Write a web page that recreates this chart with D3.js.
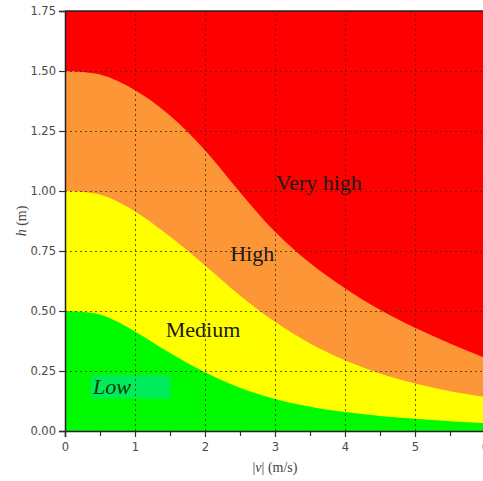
<!DOCTYPE html>
<html><head><meta charset="utf-8">
<script src="https://cdn.jsdelivr.net/npm/d3@7"></script>
<style>body{margin:0;background:#fff}svg{display:block}</style>
</head><body>
<svg id="c" width="483" height="481"></svg>
<script>
const speeds = [0,0.5,1,1.5,2,2.5,3,3.5,4,4.5,5,5.5,6];
const highBound = [1.5,1.485,1.42,1.315,1.17,0.995,0.83,0.70,0.595,0.505,0.43,0.365,0.305];
const mediumBound = [1.0,0.985,0.915,0.81,0.69,0.565,0.455,0.365,0.295,0.24,0.198,0.166,0.142];
const lowBound = [0.5,0.485,0.415,0.325,0.245,0.18,0.133,0.101,0.079,0.063,0.051,0.041,0.033];
const yTicks = [0,0.25,0.5,0.75,1.0,1.25,1.5,1.75];
const xTicks = [0,1,2,3,4,5,6];
const xMinor = [0.5,1.5,2.5,3.5,4.5,5.5];
const zoneColors = {veryHigh:"#ff0000", high:"#fd9636", medium:"#ffff00", low:"#00fb00"};

const svg = d3.select("#c");
const x = d3.scaleLinear().domain([0,6]).range([65,485]);
const y = d3.scaleLinear().domain([0,1.75]).range([431,11]);

svg.append("defs").append("clipPath").attr("id","pc")
  .append("rect").attr("x",x(0)).attr("y",y(1.75)).attr("width",x(6)-x(0)).attr("height",y(0)-y(1.75));
const g = svg.append("g").attr("clip-path","url(#pc)");

g.append("rect").attr("x",x(0)).attr("y",y(1.75)).attr("width",x(6)-x(0)).attr("height",y(0)-y(1.75)).attr("fill",zoneColors.veryHigh);
const area = d3.area().x(d=>x(d[0])).y0(y(0)).y1(d=>y(d[1])).curve(d3.curveCatmullRom.alpha(0.5));
[[highBound,zoneColors.high],[mediumBound,zoneColors.medium],[lowBound,zoneColors.low]].forEach(([b,c])=>{
  g.append("path").datum(speeds.map((s,i)=>[s,b[i]])).attr("d",area).attr("fill",c);
});

// Low label box
g.append("rect").attr("x",x(0.37)).attr("y",y(0.232)).attr("width",x(1.5)-x(0.37)).attr("height",y(0.136)-y(0.232)).attr("fill","#00ec5a");

// grid
const grid = g.append("g").attr("stroke","#3a2a00").attr("stroke-opacity",0.75).attr("stroke-width",1).attr("stroke-dasharray","2,3");
[1,2,3,4,5].forEach(v=>grid.append("line").attr("x1",x(v)+0.5).attr("x2",x(v)+0.5).attr("y1",y(0)).attr("y2",y(1.75)));
[0.25,0.5,0.75,1.0,1.25,1.5].forEach(v=>grid.append("line").attr("y1",y(v)+0.5).attr("y2",y(v)+0.5).attr("x1",x(0)).attr("x2",x(6)));

// zone labels
const lab = svg.append("g").attr("font-family","'Liberation Serif','Times New Roman',serif").attr("font-size",22).attr("fill","#1a1a1a");
lab.append("text").attr("x",x(3.01)).attr("y",y(1.004)).text("Very high");
lab.append("text").attr("x",x(2.36)).attr("y",y(0.708)).text("High");
lab.append("text").attr("x",x(1.44)).attr("y",y(0.39)).text("Medium");
lab.append("text").attr("x",x(0.4)).attr("y",y(0.155)).attr("font-style","italic").attr("fill","#0a3a0a").text("Low");

// axes
const yAxis = svg.append("g").attr("transform",`translate(${x(0)},0)`)
  .call(d3.axisLeft(y).tickValues(yTicks).tickFormat(d3.format(".2f")).tickSize(6).tickPadding(3));
const xAxis = svg.append("g").attr("transform",`translate(0,${y(0)})`)
  .call(d3.axisBottom(x).tickValues(xTicks).tickFormat(d3.format("d")).tickSize(6).tickPadding(6));
svg.append("g").attr("transform",`translate(0,${y(0)})`)
  .call(d3.axisBottom(x).tickValues(xMinor).tickFormat("").tickSize(5))
  .call(s=>s.select(".domain").remove());
[yAxis,xAxis].forEach(a=>{
  a.selectAll("text").attr("font-family","'DejaVu Sans',Verdana,sans-serif").attr("font-size",11.5).attr("fill","#4a4a4a");
  a.select(".domain").attr("stroke","#222").attr("stroke-width",1.5);
});
svg.selectAll(".tick line").attr("stroke","#333").attr("stroke-width",1.2);
svg.append("line").attr("x1",x(0)).attr("x2",x(6)).attr("y1",y(1.75)).attr("y2",y(1.75)).attr("stroke","#222").attr("stroke-width",1.5);

// axis titles
const xt = svg.append("text").attr("x",x(3)).attr("y",472).attr("text-anchor","middle")
  .attr("font-family","'Liberation Serif','Times New Roman',serif").attr("font-size",14).attr("fill","#444");
xt.append("tspan").text("|");
xt.append("tspan").attr("font-style","italic").text("v");
xt.append("tspan").text("| (m/s)");
const yt = svg.append("text").attr("transform",`translate(26,${y(0.875)}) rotate(-90)`).attr("text-anchor","middle")
  .attr("font-family","'Liberation Serif','Times New Roman',serif").attr("font-size",14).attr("fill","#444");
yt.append("tspan").attr("font-style","italic").text("h");
yt.append("tspan").text(" (m)");
</script>
</body></html>
